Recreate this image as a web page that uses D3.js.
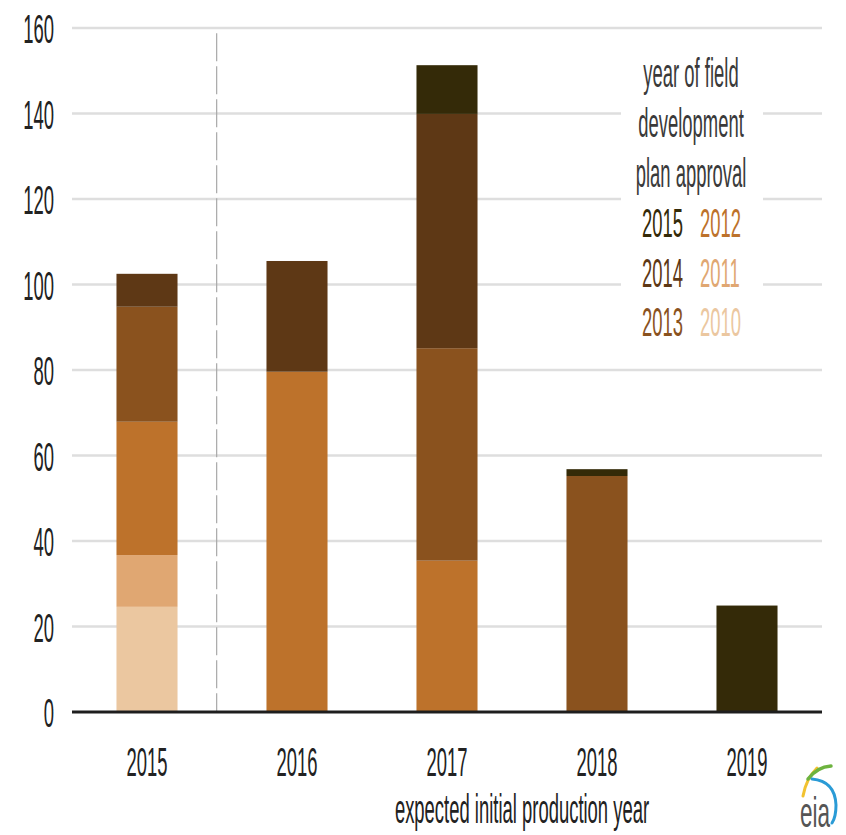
<!DOCTYPE html>
<html>
<head>
<meta charset="utf-8">
<script src="https://cdn.jsdelivr.net/npm/d3@7"></script>
<style>
  body { margin: 0; background: #fff; }
  svg { display: block; }
  text { font-family: "Liberation Sans", Arial, sans-serif; }
</style>
</head>
<body>
<script>
// Expected initial production year (x categories)
const productionYears = ["2015", "2016", "2017", "2018", "2019"];
// Year of field development plan approval (stack series, bottom to top)
const approvalYears = ["2010", "2011", "2012", "2013", "2014", "2015"];
// Values per production year, one array per approval year
const approved2010 = [24.6, 0, 0, 0, 0];
const approved2011 = [12.1, 0, 0, 0, 0];
const approved2012 = [31.2, 79.6, 35.4, 0, 0];
const approved2013 = [26.9, 0, 49.7, 55.2, 0];
const approved2014 = [7.7, 25.9, 54.8, 0, 0];
const approved2015 = [0, 0, 11.4, 1.6, 24.9];
const yTickValues = [0, 20, 40, 60, 80, 100, 120, 140, 160];
const legendColumns = [["2015", "2014", "2013"], ["2012", "2011", "2010"]];
const legendTitle = ["year of field", "development", "plan approval"];
const axisTitle = "expected initial production year";

const seriesValues = [approved2010, approved2011, approved2012, approved2013, approved2014, approved2015];
const palette = ["#ebc7a0", "#e0a772", "#bd722b", "#8a521e", "#5e3815", "#342a08"];

const W = 846, H = 835;
const plot = { left: 72, right: 822, top: 28, bottom: 712 };
const FS = 22.5, SX = 0.82, SY = 1.8;

const svg = d3.select("body").append("svg").attr("width", W).attr("height", H);

const rows = productionYears.map((p, i) => {
  const r = { year: p };
  approvalYears.forEach((a, k) => { r[a] = seriesValues[k][i]; });
  return r;
});
const stacked = d3.stack().keys(approvalYears)(rows);

const x = d3.scaleBand().domain(productionYears)
  .range([plot.left, plot.right]).paddingInner(0.593).paddingOuter(0.2965);
const y = d3.scaleLinear().domain([0, 160]).range([plot.bottom, plot.top]);
const color = d3.scaleOrdinal().domain(approvalYears).range(palette);

function label(g, px, py, str, anchor, fill) {
  return g.append("text")
    .attr("transform", `translate(${px},${py}) scale(${SX},${SY})`)
    .attr("text-anchor", anchor)
    .attr("font-size", FS)
    .attr("fill", fill)
    .text(str);
}

// gridlines
svg.append("g").selectAll("line").data(yTickValues.filter(d => d > 0)).join("line")
  .attr("x1", plot.left).attr("x2", plot.right)
  .attr("y1", d => y(d)).attr("y2", d => y(d))
  .attr("stroke", "#dedede").attr("stroke-width", 2.5);

// y tick labels
const yLab = svg.append("g");
yTickValues.forEach(t => label(yLab, 54, y(t) + 15, String(t), "end", "#222"));

// separator between actual and expected years
const sepX = x("2015") + x.bandwidth() + (x.step() - x.bandwidth()) * 0.44;
svg.append("line")
  .attr("x1", sepX).attr("x2", sepX)
  .attr("y1", y(158.8)).attr("y2", y(0))
  .attr("stroke", "#a8a8a8").attr("stroke-width", 1.2)
  .attr("stroke-dasharray", "28,5");

// stacked bars
svg.append("g").selectAll("g").data(stacked).join("g")
  .attr("fill", d => color(d.key))
  .selectAll("rect").data(d => d.filter(s => s[1] - s[0] > 0)).join("rect")
  .attr("x", d => x(d.data.year))
  .attr("width", x.bandwidth())
  .attr("y", d => y(d[1]))
  .attr("height", d => y(d[0]) - y(d[1]));

// baseline axis
svg.append("line")
  .attr("x1", plot.left).attr("x2", plot.right)
  .attr("y1", y(0)).attr("y2", y(0))
  .attr("stroke", "#1e1e1e").attr("stroke-width", 3);

// x tick labels
const xLab = svg.append("g");
productionYears.forEach(p => label(xLab, x(p) + x.bandwidth() / 2, 776, p, "middle", "#222"));
label(xLab, 522, 823, axisTitle, "middle", "#222");

// legend
const lg = svg.append("g");
lg.append("rect").attr("x", 621).attr("y", 55).attr("width", 142).attr("height", 290).attr("fill", "#fff");
legendTitle.forEach((t, i) => label(lg, 691, 87 + i * 50, t, "middle", "#3a3a3a"));
legendColumns.forEach((col, c) => {
  col.forEach((yr, r) => {
    label(lg, 642 + c * 58, 237 + r * 49.5, yr, "start", color(yr));
  });
});

// agency mark
const logo = svg.append("g");
logo.append("path").attr("d", "M803,796 Q806,779 817,768").attr("fill", "none")
  .attr("stroke", "#f2c230").attr("stroke-width", 3).attr("stroke-linecap", "round");
logo.append("path").attr("d", "M808,779 Q817,767 831,766").attr("fill", "none")
  .attr("stroke", "#6db33f").attr("stroke-width", 3.5).attr("stroke-linecap", "round");
logo.append("path").attr("d", "M812,779 Q835,781 836,805 Q836,817 832,823").attr("fill", "none")
  .attr("stroke", "#2a9bd6").attr("stroke-width", 3).attr("stroke-linecap", "round");
logo.append("text")
  .attr("transform", "translate(815,827) scale(0.9,1.7)")
  .attr("text-anchor", "middle").attr("font-size", 25)
  .attr("fill", "#555").text("eia");
</script>
</body>
</html>
